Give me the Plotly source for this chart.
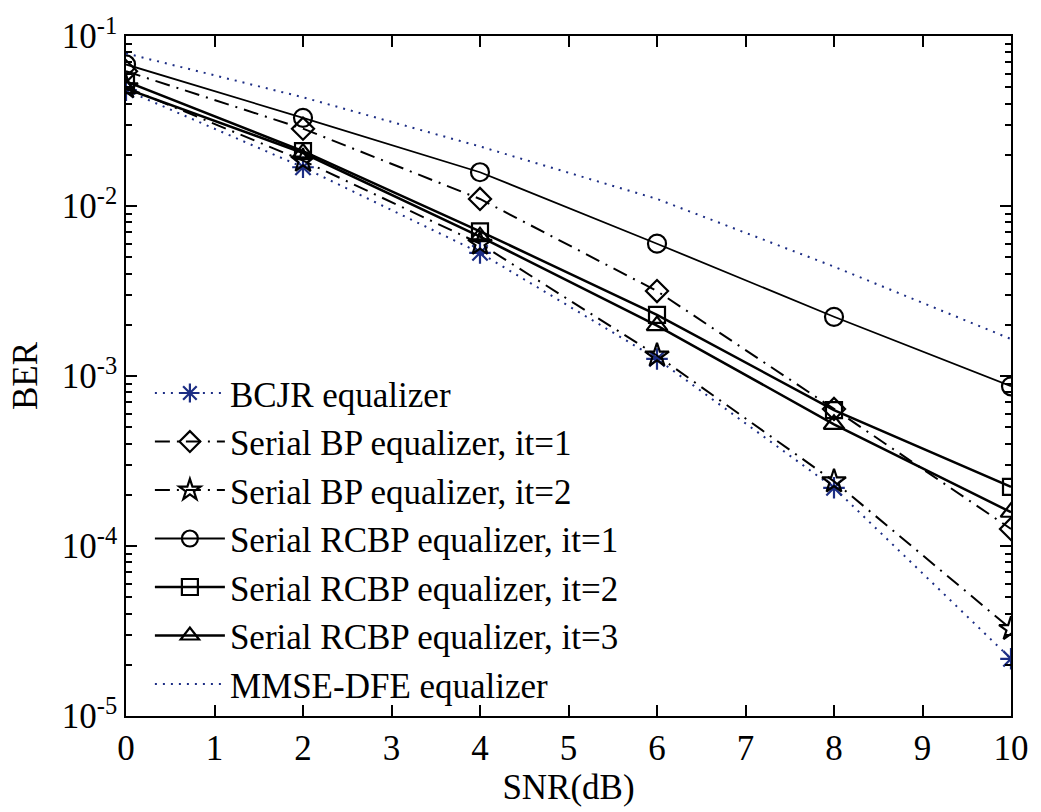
import plotly.graph_objects as go

# SNR sweep (dB)
snr_db = [0, 2, 4, 6, 8, 10]

# Bit error rates per equalizer
ber_bcjr = [0.048, 0.0169, 0.0053, 0.00126, 2.2e-4, 2.17e-5]
ber_bp_it1 = [0.062, 0.0285, 0.011, 0.00316, 6.4e-4, 1.26e-4]
ber_bp_it2 = [0.050, 0.0185, 0.0060, 0.00132, 2.4e-4, 3.25e-5]
ber_rcbp_it1 = [0.068, 0.033, 0.0158, 0.0060, 0.00223, 8.7e-4]
ber_rcbp_it2 = [0.054, 0.021, 0.0071, 0.00229, 6.3e-4, 2.23e-4]
ber_rcbp_it3 = [0.049, 0.0205, 0.0066, 0.00198, 5.2e-4, 1.58e-4]
ber_mmse_dfe = [0.079, 0.0436, 0.0224, 0.0110, 0.0044, 0.00165]

names = [
    "BCJR equalizer",
    "Serial BP equalizer, it=1",
    "Serial BP equalizer, it=2",
    "Serial RCBP equalizer, it=1",
    "Serial RCBP equalizer, it=2",
    "Serial RCBP equalizer, it=3",
    "MMSE-DFE equalizer",
]

x_ticks = list(range(0, 11))
y_major = [1e-5, 1e-4, 1e-3, 1e-2, 1e-1]
y_major_text = ["10<sup>-5</sup>", "10<sup>-4</sup>", "10<sup>-3</sup>",
                "10<sup>-2</sup>", "10<sup>-1</sup>"]

BLUE = "#1c2d84"
BLACK = "#000000"
DOT = "2px,6px"
DASHDOT = "15px,7px,2px,7px"

styles = [
    dict(y=ber_bcjr, color=BLUE, dash=DOT, symbol="asterisk-open", width=2, msize=18),
    dict(y=ber_bp_it1, color=BLACK, dash=DASHDOT, symbol="diamond-open", width=2, msize=17),
    dict(y=ber_bp_it2, color=BLACK, dash=DASHDOT, symbol="star-open", width=2, msize=18),
    dict(y=ber_rcbp_it1, color=BLACK, dash="solid", symbol="circle-open", width=1.8, msize=18),
    dict(y=ber_rcbp_it2, color=BLACK, dash="solid", symbol="square-open", width=2.5, msize=16),
    dict(y=ber_rcbp_it3, color=BLACK, dash="solid", symbol="triangle-up-open", width=2.5, msize=18),
    dict(y=ber_mmse_dfe, color=BLUE, dash=DOT, symbol=None, width=2, msize=0),
]

fig = go.Figure()
for name, s in zip(names, styles):
    mode = "lines+markers" if s["symbol"] else "lines"
    trace = go.Scatter(
        x=snr_db, y=s["y"], name=name, mode=mode,
        line=dict(color=s["color"], dash=s["dash"], width=s["width"]),
    )
    if s["symbol"]:
        trace.marker = dict(symbol=s["symbol"], size=s["msize"], color=s["color"],
                            line=dict(color=s["color"], width=2.2))
    fig.add_trace(trace)

# minor decade ticks for the log axis
y_minor = [m * 10.0 ** e for e in range(-5, -1) for m in range(2, 10)]

font_family = "Liberation Serif"

fig.update_layout(
    width=1041, height=812,
    margin=dict(l=126, r=22, t=35, b=89),
    paper_bgcolor="white", plot_bgcolor="white",
    font=dict(family=font_family, color="black", size=34),
    showlegend=True,
    legend=dict(
        x=0.027, y=0.518, xanchor="left", yanchor="top",
        bgcolor="rgba(0,0,0,0)", borderwidth=0,
        font=dict(family=font_family, size=35, color="black"),
        tracegroupgap=0, itemwidth=70,
    ),
    xaxis=dict(
        range=[0, 10], tickmode="array", tickvals=x_ticks,
        ticks="inside", ticklen=11, tickwidth=1.5, tickcolor="black",
        showline=True, linecolor="black", linewidth=1.5, mirror="ticks",
        showgrid=False, zeroline=False,
        tickfont=dict(family=font_family, size=35),
        title=dict(text="SNR(dB)", font=dict(family=font_family, size=35), standoff=8),
    ),
    yaxis=dict(
        type="log", range=[-5, -1], tickmode="array",
        tickvals=y_major, ticktext=y_major_text,
        ticks="inside", ticklen=11, tickwidth=1.5, tickcolor="black",
        showline=True, linecolor="black", linewidth=1.5, mirror="ticks",
        showgrid=False, zeroline=False,
        minor=dict(tickmode="array", tickvals=y_minor, ticks="inside",
                   ticklen=6, tickwidth=1.5, tickcolor="black", showgrid=False),
        tickfont=dict(family=font_family, size=35),
        title=dict(text="BER", font=dict(family=font_family, size=35), standoff=14),
    ),
)

fig.write_html("out.html")
